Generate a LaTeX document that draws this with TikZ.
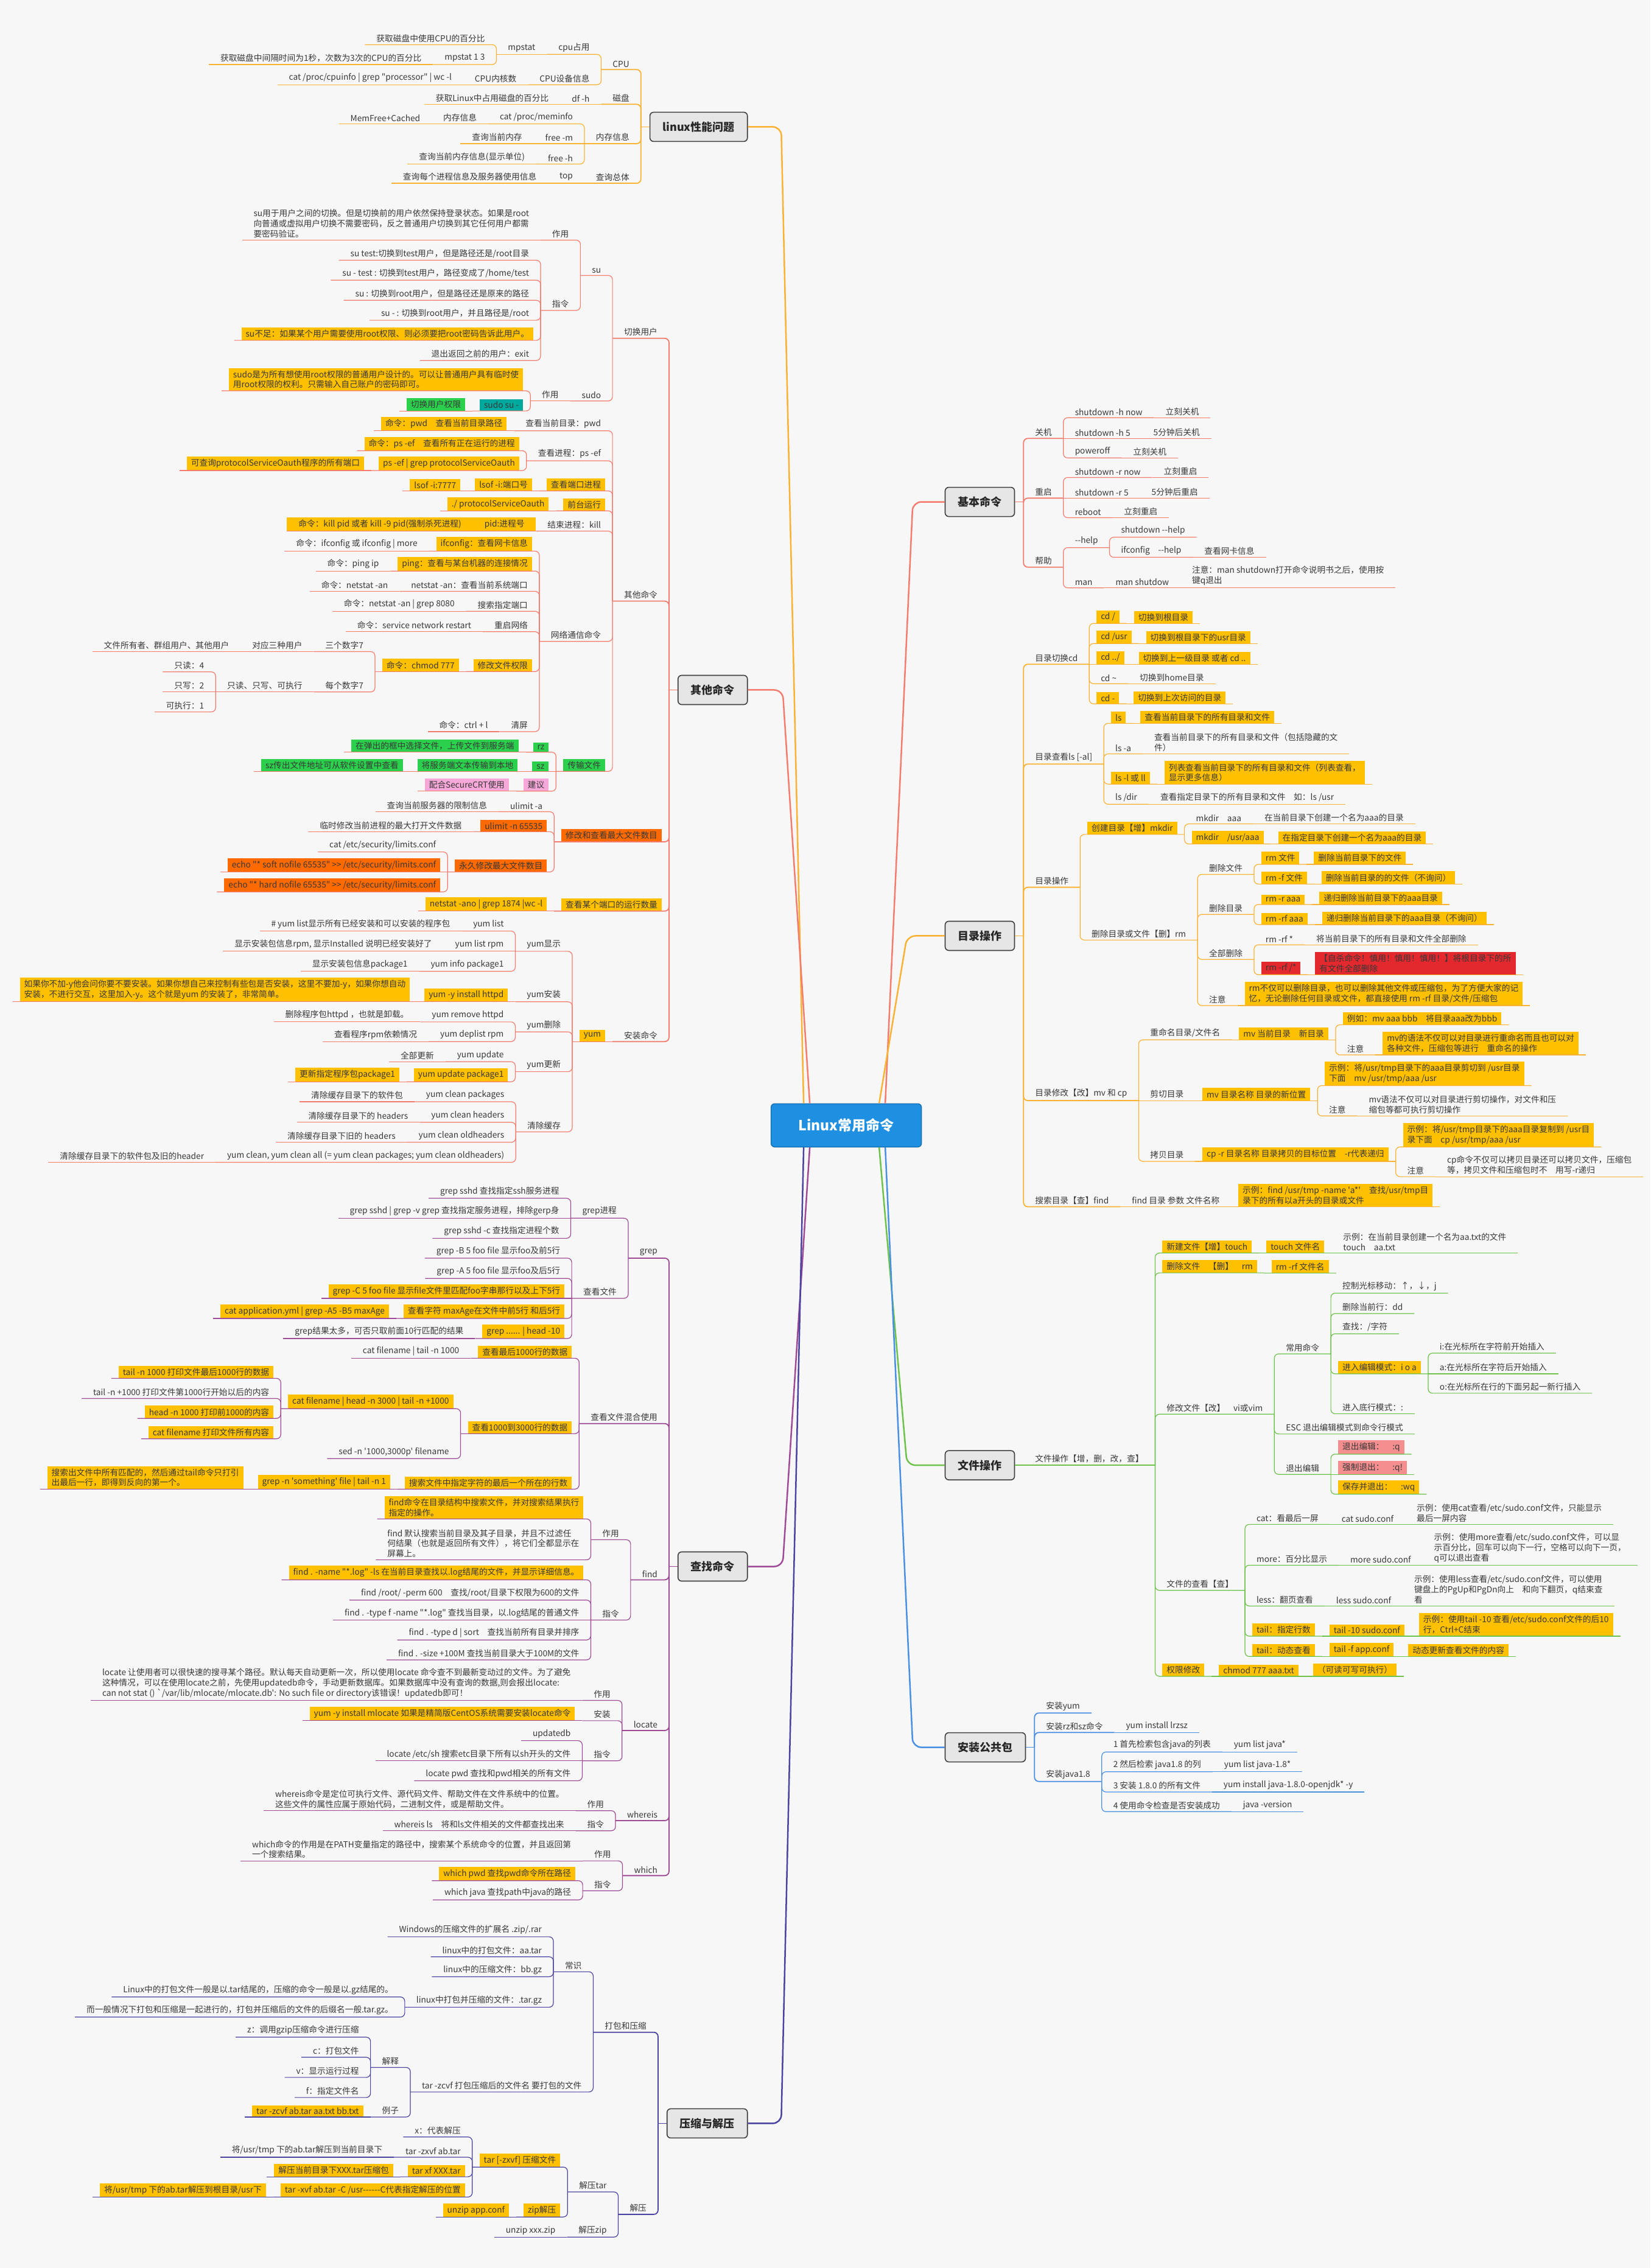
\documentclass[tikz,border=0pt]{standalone}
\usepackage{fontspec}
\setmainfont{Noto Sans CJK SC}[Ligatures=TeXOff]
\definecolor{bg}{HTML}{F7F7F7}
\definecolor{txt}{HTML}{383838}
\definecolor{cperf}{HTML}{F9B233}
\definecolor{cother}{HTML}{F47C6E}
\definecolor{cfind}{HTML}{9E4A96}
\definecolor{ctar}{HTML}{4B43A0}
\definecolor{cbasic}{HTML}{F47C6E}
\definecolor{cdir}{HTML}{F9B233}
\definecolor{cfile}{HTML}{6CC24A}
\definecolor{cinst}{HTML}{4A90E2}
\definecolor{fy}{HTML}{FFC000}
\definecolor{fo}{HTML}{FF6A00}
\definecolor{fg}{HTML}{2BD14C}
\definecolor{ft}{HTML}{00A99D}
\definecolor{fp}{HTML}{F7A8D8}
\definecolor{fr}{HTML}{E3282E}
\definecolor{fl}{HTML}{F58F8F}
\definecolor{cblue}{HTML}{1E8FE1}
\definecolor{mgrey}{HTML}{E6E6E6}
\colorlet{brc}{cperf}

\tikzset{
  lk/.style={anchor=south east, inner xsep=7pt, outer xsep=12pt, inner ysep=4pt,
    outer ysep=0pt, font=\fontsize{13.7}{16.7}\selectfont, text=txt},
  rk/.style={lk, anchor=south west},
  hy/.style={fill=fy}, ho/.style={fill=fo}, hg/.style={fill=fg}, ht/.style={fill=ft},
  hp/.style={fill=fp}, hr/.style={fill=fr}, hl/.style={fill=fl},
  two/.style={align=left},
  tight/.style={inner xsep=19pt, outer xsep=0pt},
  link/.style={draw=brc, line width=1.2pt, rounded corners=7pt},
  linkA/.style={link, line width=1.8pt},
  hub/.style={inner sep=0pt, outer sep=0pt, minimum size=0pt},
  mbox/.style={draw=black!75, line width=1.6pt, fill=mgrey, rounded corners=6pt,
    inner xsep=21pt, minimum height=48pt, font=\fontsize{18}{21}\selectfont\bfseries, text=black!85},
  ml/.style={line width=2.5pt, rounded corners=14pt}
}

% left children
\newcommand\lk[5][]{\node[lk,#1] (#2) at (#3.south west |- 0,#4) {#5};
  \draw[link] (#2.south west) -- (#2.south east) -- (#3.south west);}
\newcommand\lki[4][]{\node[lk,#1] (#2) at (#3.south west) {#4};
  \draw[link] (#2.south west) -- (#3.south west);}
\newcommand\lkA[5][]{\node[lk,#1] (#2) at (#3 |- 0,#4) {#5};
  \draw[linkA] (#2.south west) -- (#2.south east) -- (#3);}
% right children
\newcommand\rk[5][]{\node[rk,#1] (#2) at (#3.south east |- 0,#4) {#5};
  \draw[link] (#2.south east) -- (#2.south west) -- (#3.south east);}
\newcommand\rki[4][]{\node[rk,#1] (#2) at (#3.south east) {#4};
  \draw[link] (#2.south east) -- (#3.south east);}
\newcommand\rkA[5][]{\node[rk,#1] (#2) at (#3 |- 0,#4) {#5};
  \draw[linkA] (#2.south east) -- (#2.south west) -- (#3);}

\begin{document}
\begin{tikzpicture}[x=2.376pt, y=-2.376pt]
\useasboundingbox (0,0) rectangle (1141,1568);
\fill[bg] (0,0) rectangle (1141,1568);

% centre and main branches
\node[fill=cblue, draw=cblue!80!black, line width=1.5pt, rounded corners=6pt, text=white,
  font=\fontsize{23}{26}\selectfont\bfseries, minimum width=247pt, minimum height=71pt] (ctr) at (585,778) {Linux常用命令};
\node[mbox, anchor=east] (perf) at (517,87.7) {linux性能问题};
\node[mbox, anchor=east] (oth) at (517,477) {其他命令};
\node[mbox, anchor=east] (fnd) at (517,1083) {查找命令};
\node[mbox, anchor=east] (tar) at (517,1468) {压缩与解压};
\node[mbox, anchor=west] (bas) at (653,347) {基本命令};
\node[mbox, anchor=west] (dir) at (653,647) {目录操作};
\node[mbox, anchor=west] (fil) at (653,1013) {文件操作};
\node[mbox, anchor=west] (ins) at (653,1208) {安装公共包};

\draw[ml, cperf] (perf.east) -- (540,87.7) -- ([xshift=-70pt]ctr.north);
\draw[ml, cother] (oth.east) -- (541,477) -- ([xshift=-60pt]ctr.north);
\draw[ml, cfind] (fnd.east) -- (541,1083) -- ([xshift=-60pt]ctr.south);
\draw[ml, ctar] (tar.east) -- (540,1468) -- ([xshift=-70pt]ctr.south);
\draw[ml, cbasic] (bas.west) -- (631,347) -- ([xshift=64pt]ctr.north);
\draw[ml, cdir] (dir.west) -- (627,647) -- ([xshift=54pt]ctr.north);
\draw[ml, cfile] (fil.west) -- (627,1013) -- ([xshift=54pt]ctr.south);
\draw[ml, cinst] (ins.west) -- (631,1208) -- ([xshift=64pt]ctr.south);

\node[hub] (perfS) at ([xshift=-14pt]perf.west) {};
\node[hub] (othS) at ([xshift=-14pt]oth.west) {};
\node[hub] (fndS) at ([xshift=-14pt]fnd.west) {};
\node[hub] (tarS) at ([xshift=-14pt]tar.west) {};
\node[hub] (basS) at ([xshift=14pt]bas.east) {};
\node[hub] (dirS) at ([xshift=14pt]dir.east) {};
\node[hub] (filS) at ([xshift=14pt]fil.east) {};
\node[hub] (insS) at ([xshift=14pt]ins.east) {};

% linux性能问题
\colorlet{brc}{cperf}
\draw[linkA] (perfS) -- (perf.west);
\lkA{p1}{perfS}{48.1}{CPU}
\lk{p2}{p1}{37.6}{cpu占用}
\lki{p3}{p2}{mpstat}
\lk{p4}{p3}{30.9}{获取磁盘中使用CPU的百分比}
\lk{p5}{p3}{44.6}{mpstat 1 3}
\lki{p6}{p5}{获取磁盘中间隔时间为1秒，次数为3次的CPU的百分比}
\lk{p7}{p1}{58.6}{CPU设备信息}
\lki{p8}{p7}{CPU内核数}
\lki{p9}{p8}{cat /proc/cpuinfo | grep "processor" | wc -l}
\lkA{p10}{perfS}{72.1}{磁盘}
\lki{p11}{p10}{df -h}
\lki{p12}{p11}{获取Linux中占用磁盘的百分比}
\lkA{p13}{perfS}{99.3}{内存信息}
\lk{p14}{p13}{85.6}{cat /proc/meminfo}
\lki{p15}{p14}{内存信息}
\lki{p16}{p15}{MemFree+Cached}
\lki{p17}{p13}{free -m}
\lki{p18}{p17}{查询当前内存}
\lk{p19}{p13}{113.4}{free -h}
\lki{p20}{p19}{查询当前内存信息(显示单位)}
\lkA{p21}{perfS}{126.7}{查询总体}
\lki{p22}{p21}{top}
\lki{p23}{p22}{查询每个进程信息及服务器使用信息}

% 其他命令
\colorlet{brc}{cother}
\draw[linkA] (othS) -- (oth.west);
\lkA{o1}{othS}{233.9}{切换用户}
\lk{o2}{o1}{190.4}{su}
\lk{o3}{o2}{166.0}{作用}
\lki[two]{o4}{o3}{su用于用户之间的切换。但是切换前的用户依然保持登录状态。如果是root\\向普通或虚拟用户切换不需要密码，反之普通用户切换到其它任何用户都需\\要密码验证。}
\lk{o5}{o2}{214.6}{指令}
\lk{o6}{o5}{179.9}{su test:切换到test用户，但是路径还是/root目录}
\lk{o7}{o5}{193.7}{su - test : 切换到test用户，路径变成了/home/test}
\lk{o8}{o5}{207.6}{su : 切换到root用户，但是路径还是原来的路径}
\lk{o9}{o5}{221.4}{su - : 切换到root用户，并且路径是/root}
\lk[hy]{o10}{o5}{235.3}{su不足：如果某个用户需要使用root权限、则必须要把root密码告诉此用户。}
\lk{o11}{o5}{249.2}{退出返回之前的用户：exit}
\lk{o12}{o1}{277.2}{sudo}
\lki{o13}{o12}{作用}
\lk[hy,two]{o14}{o13}{270.2}{sudo是为所有想使用root权限的普通用户设计的。可以让普通用户具有临时使\\用root权限的权利。只需输入自己账户的密码即可。}
\lk[ht]{o15}{o13}{284.1}{sudo su -}
\lki[hg]{o16}{o15}{切换用户权限}
\lkA{o17}{othS}{415.6}{其他命令}
\lk{o18}{o17}{297.8}{查看当前目录：pwd}
\lki[hy]{o19}{o18}{命令：pwd　查看当前目录路径}
\lk{o20}{o17}{318.6}{查看进程：ps -ef}
\lk[hy]{o21}{o20}{311.6}{命令：ps -ef　查看所有正在运行的进程}
\lk[hy]{o22}{o20}{325.3}{ps -ef | grep protocolServiceOauth}
\lki[hy]{o23}{o22}{可查询protocolServiceOauth程序的所有端口}
\lk[hy]{o24}{o17}{339.4}{查看端口进程}
\lki[hy]{o25}{o24}{lsof -i:端口号}
\lki[hy]{o26}{o25}{lsof -i:7777}
\lk[hy]{o27}{o17}{353.2}{前台运行}
\lki[hy]{o28}{o27}{./ protocolServiceOauth}
\lk{o29}{o17}{367.2}{结束进程：kill}
\lki[hy,tight]{o30}{o29}{pid:进程号}
\lki[hy,tight]{o31}{o30}{命令：kill pid 或者 kill -9 pid(强制杀死进程)}
\lk{o32}{o17}{443.4}{网络通信命令}
\lk[hy]{o33}{o32}{381.0}{ifconfig：查看网卡信息}
\lki{o34}{o33}{命令：ifconfig 或 ifconfig | more}
\lk[hy]{o35}{o32}{394.8}{ping：查看与某台机器的连接情况}
\lki{o36}{o35}{命令：ping ip}
\lk{o37}{o32}{408.8}{netstat -an：查看当前系统端口}
\lki{o38}{o37}{命令：netstat -an}
\lk{o39}{o32}{422.6}{搜索指定端口}
\lki{o40}{o39}{命令：netstat -an | grep 8080}
\lk{o41}{o32}{436.7}{重启网络}
\lki{o42}{o41}{命令：service network restart}
\lk[hy]{o43}{o32}{464.3}{修改文件权限}
\lki[hy]{o44}{o43}{命令：chmod 777}
\lk{o45}{o44}{450.5}{三个数字7}
\lki{o46}{o45}{对应三种用户}
\lki{o47}{o46}{文件所有者、群组用户、其他用户}
\lk{o48}{o44}{478.4}{每个数字7}
\lki{o49}{o48}{只读、只写、可执行}
\lk{o50}{o49}{464.5}{只读：4}
\lki{o51}{o49}{只写：2}
\lk{o52}{o49}{492.2}{可执行：1}
\lk{o53}{o32}{505.8}{清屏}
\lki{o54}{o53}{命令：ctrl + l}
\lk[hg]{o55}{o17}{533.3}{传输文件}
\lk[hg]{o56}{o55}{520.0}{rz}
\lki[hg]{o57}{o56}{在弹出的框中选择文件，上传文件到服务端}
\lki[hg]{o58}{o55}{sz}
\lki[hg]{o59}{o58}{将服务端文本传输到本地}
\lki[hg]{o60}{o59}{sz传出文件地址可从软件设置中查看}
\lk[hp]{o61}{o55}{547.0}{建议}
\lki[hp]{o62}{o61}{配合SecureCRT使用}
\lkA[ho]{o63}{othS}{582.0}{修改和查看最大文件数目}
\lk{o64}{o63}{561.2}{ulimit -a}
\lki{o65}{o64}{查询当前服务器的限制信息}
\lk[ho]{o66}{o63}{575.0}{ulimit -n 65535}
\lki{o67}{o66}{临时修改当前进程的最大打开文件数据}
\lk[ho]{o68}{o63}{602.8}{永久修改最大文件数目}
\lk{o69}{o68}{589.0}{cat /etc/security/limits.conf}
\lki[ho]{o70}{o68}{echo "* soft nofile 65535" >> /etc/security/limits.conf}
\lk[ho]{o71}{o68}{616.6}{echo "* hard nofile 65535" >> /etc/security/limits.conf}
\lkA[hy]{o72}{othS}{629.9}{查看某个端口的运行数量}
\lki[hy]{o73}{o72}{netstat -ano | grep 1874 |wc -l}
\lkA{o74}{othS}{720.1}{安装命令}
\lki[hy]{o75}{o74}{yum}
\lk{o76}{o75}{657.7}{yum显示}
\lk{o77}{o76}{643.7}{yum list}
\lki{o78}{o77}{\# yum list显示所有已经安装和可以安装的程序包}
\lki{o79}{o76}{yum list rpm}
\lki{o80}{o79}{显示安装包信息rpm, 显示Installed 说明已经安装好了}
\lk{o81}{o76}{671.5}{yum info package1}
\lki{o82}{o81}{显示安装包信息package1}
\lk{o83}{o75}{692.6}{yum安装}
\lki[hy]{o84}{o83}{yum -y install httpd}
\lki[hy,two]{o85}{o84}{如果你不加-y他会问你要不要安装。如果你想自己来控制有些包是否安装，这里不要加-y，如果你想自动\\安装，不进行交互，这里加入-y。这个就是yum 的安装了，非常简单。}
\lk{o86}{o75}{713.4}{yum删除}
\lk{o87}{o86}{706.5}{yum remove httpd}
\lki{o88}{o87}{删除程序包httpd ，也就是卸载。}
\lk{o89}{o86}{720.1}{yum deplist rpm}
\lki{o90}{o89}{查看程序rpm依赖情况}
\lk{o91}{o75}{740.9}{yum更新}
\lk{o92}{o91}{734.0}{yum update}
\lki{o93}{o92}{全部更新}
\lk[hy]{o94}{o91}{747.9}{yum update package1}
\lki[hy]{o95}{o94}{更新指定程序包package1}
\lk{o96}{o75}{782.5}{清除缓存}
\lk{o97}{o96}{761.7}{yum clean packages}
\lki{o98}{o97}{清除缓存目录下的软件包}
\lk{o99}{o96}{775.9}{yum clean headers}
\lki{o100}{o99}{清除缓存目录下的 headers}
\lk{o101}{o96}{789.7}{yum clean oldheaders}
\lki{o102}{o101}{清除缓存目录下旧的 headers}
\lk{o103}{o96}{803.6}{yum clean, yum clean all (= yum clean packages; yum clean oldheaders)}
\lki{o104}{o103}{清除缓存目录下的软件包及旧的header}

% 查找命令
\colorlet{brc}{cfind}
\draw[linkA] (fndS) -- (fnd.west);
\lkA{f1}{fndS}{869.8}{grep}
\lk{f2}{f1}{842.2}{grep进程}
\lk{f3}{f2}{828.4}{grep sshd 查找指定ssh服务进程}
\lki{f4}{f2}{grep sshd | grep -v grep 查找指定服务进程，排除gerp身}
\lk{f5}{f2}{856.1}{grep sshd -c 查找指定进程个数}
\lk{f6}{f1}{897.6}{查看文件}
\lk{f7}{f6}{869.8}{grep -B 5 foo file 显示foo及前5行}
\lk{f8}{f6}{883.8}{grep -A 5 foo file 显示foo及后5行}
\lki[hy]{f9}{f6}{grep -C 5 foo file 显示file文件里匹配foo字串那行以及上下5行}
\lk[hy]{f10}{f6}{911.5}{查看字符 maxAge在文件中前5行 和后5行}
\lki[hy]{f11}{f10}{cat application.yml | grep -A5 -B5 maxAge}
\lk[hy]{f12}{f6}{925.4}{grep ...... | head -10}
\lki{f13}{f12}{grep结果太多，可否只取前面10行匹配的结果}
\lkA{f14}{fndS}{984.2}{查看文件混合使用}
\lk[hy]{f15}{f14}{939.0}{查看最后1000行的数据}
\lki{f16}{f15}{cat filename | tail -n 1000}
\lk[hy]{f17}{f14}{991.2}{查看1000到3000行的数据}
\lk[hy]{f18}{f17}{973.9}{cat filename | head -n 3000 | tail -n +1000}
\lk[hy]{f19}{f18}{952.9}{tail -n 1000 打印文件最后1000行的数据}
\lk{f20}{f18}{966.8}{tail -n +1000 打印文件第1000行开始以后的内容}
\lk[hy]{f21}{f18}{980.6}{head -n 1000 打印前1000的内容}
\lk[hy]{f22}{f18}{994.7}{cat filename 打印文件所有内容}
\lk{f23}{f17}{1008.4}{sed -n '1000,3000p' filename}
\lk[hy]{f24}{f14}{1029.5}{搜索文件中指定字符的最后一个所在的行数}
\lki[hy]{f25}{f24}{grep -n 'something' file | tail -n 1}
\lki[hy,two]{f26}{f25}{搜索出文件中所有匹配的，然后通过tail命令只打引\\出最后一行，即得到反向的第一个。}
\lkA{f27}{fndS}{1092.2}{find}
\lk{f28}{f27}{1064.5}{作用}
\lk[hy,two]{f29}{f28}{1050.1}{find命令在目录结构中搜索文件，并对搜索结果执行\\指定的操作。}
\lk[two]{f30}{f28}{1078.4}{find 默认搜索当前目录及其子目录，并且不过滤任\\何结果（也就是返回所有文件），将它们全都显示在\\屏幕上。}
\lk{f31}{f27}{1120.0}{指令}
\lk[hy]{f32}{f31}{1092.2}{find . -name "*.log" -ls 在当前目录查找以.log结尾的文件，并显示详细信息。}
\lk{f33}{f31}{1106.2}{find /root/ -perm 600　查找/root/目录下权限为600的文件}
\lki{f34}{f31}{find . -type f -name "*.log" 查找当目录，以.log结尾的普通文件}
\lk{f35}{f31}{1133.8}{find . -type d | sort　查找当前所有目录并排序}
\lk{f36}{f31}{1147.6}{find . -size +100M 查找当前目录大于100M的文件}
\lkA{f37}{fndS}{1196.4}{locate}
\lk{f38}{f37}{1175.6}{作用}
\lki[two]{f39}{f38}{locate 让使用者可以很快速的搜寻某个路径。默认每天自动更新一次，所以使用locate 命令查不到最新变动过的文件。为了避免\\这种情况，可以在使用locate之前，先使用updatedb命令，手动更新数据库。如果数据库中没有查询的数据,则会报出locate:\\can not stat () `/var/lib/mlocate/mlocate.db': No such file or directory该错误！updatedb即可！}
\lk{f40}{f37}{1189.6}{安装}
\lki[hy]{f41}{f40}{yum -y install mlocate 如果是精简版CentOS系统需要安装locate命令}
\lk{f42}{f37}{1217.3}{指令}
\lk{f43}{f42}{1203.4}{updatedb}
\lki{f44}{f42}{locate /etc/sh 搜索etc目录下所有以sh开头的文件}
\lk{f45}{f42}{1231.1}{locate pwd 查找和pwd相关的所有文件}
\lkA{f46}{fndS}{1258.7}{whereis}
\lk{f47}{f46}{1251.8}{作用}
\lki[two]{f48}{f47}{whereis命令是定位可执行文件、源代码文件、帮助文件在文件系统中的位置。\\这些文件的属性应属于原始代码，二进制文件，或是帮助文件。}
\lk{f49}{f46}{1265.7}{指令}
\lki{f50}{f49}{whereis ls　将和ls文件相关的文件都查找出来}
\lkA{f51}{fndS}{1296.7}{which}
\lk{f52}{f51}{1286.5}{作用}
\lki[two]{f53}{f52}{which命令的作用是在PATH变量指定的路径中，搜索某个系统命令的位置，并且返回第\\一个搜索结果。}
\lk{f54}{f51}{1307.2}{指令}
\lk[hy]{f55}{f54}{1300.2}{which pwd 查找pwd命令所在路径}
\lk{f56}{f54}{1313.5}{which java 查找path中java的路径}

% 压缩与解压
\colorlet{brc}{ctar}
\draw[linkA] (tarS) -- (tar.west);
\lkA{t1}{tarS}{1405.0}{打包和压缩}
\lk{t2}{t1}{1363.2}{常识}
\lk{t3}{t2}{1339.0}{Windows的压缩文件的扩展名 .zip/.rar}
\lk{t4}{t2}{1352.8}{linux中的打包文件：aa.tar}
\lk{t5}{t2}{1366.6}{linux中的压缩文件：bb.gz}
\lk{t6}{t2}{1387.7}{linux中打包并压缩的文件：.tar.gz}
\lk{t7}{t6}{1380.6}{Linux中的打包文件一般是以.tar结尾的，压缩的命令一般是以.gz结尾的。}
\lk{t8}{t6}{1394.5}{而一般情况下打包和压缩是一起进行的，打包并压缩后的文件的后缀名一般.tar.gz。}
\lk{t9}{t1}{1446.3}{tar -zcvf 打包压缩后的文件名 要打包的文件}
\lk{t10}{t9}{1429.3}{解释}
\lk{t11}{t10}{1408.4}{z：调用gzip压缩命令进行压缩}
\lk{t12}{t10}{1422.3}{c：打包文件}
\lk{t13}{t10}{1436.2}{v：显示运行过程}
\lk{t14}{t10}{1450.1}{f：指定文件名}
\lk{t15}{t9}{1463.6}{例子}
\lki[hy]{t16}{t15}{tar -zcvf ab.tar aa.txt bb.txt}
\lkA{t17}{tarS}{1530.9}{解压}
\lk{t18}{t17}{1515.4}{解压tar}
\lk[hy]{t19}{t18}{1498.2}{tar [-zxvf] 压缩文件}
\lk{t20}{t19}{1477.4}{x：代表解压}
\lk{t21}{t19}{1491.4}{tar -zxvf ab.tar}
\lki{t22}{t21}{将/usr/tmp 下的ab.tar解压到当前目录下}
\lk[hy]{t23}{t19}{1504.9}{tar xf XXX.tar}
\lki[hy]{t24}{t23}{解压当前目录下XXX.tar压缩包}
\lk[hy]{t25}{t19}{1518.9}{tar -xvf ab.tar -C /usr------C代表指定解压的位置}
\lki[hy]{t26}{t25}{将/usr/tmp 下的ab.tar解压到根目录/usr下}
\lk[hy]{t27}{t18}{1532.7}{zip解压}
\lki[hy]{t28}{t27}{unzip app.conf}
\lk{t29}{t17}{1546.6}{解压zip}
\lki{t30}{t29}{unzip xxx.zip}

% 基本命令
\colorlet{brc}{cbasic}
\draw[linkA] (basS) -- (bas.east);
\rkA{b1}{basS}{303.1}{关机}
\rk{b2}{b1}{288.8}{shutdown -h now}
\rki{b3}{b2}{立刻关机}
\rki{b4}{b1}{shutdown -h 5}
\rki{b5}{b4}{5分钟后关机}
\rk{b6}{b1}{316.6}{poweroff}
\rki{b7}{b6}{立刻关机}
\rkA{b8}{basS}{344.4}{重启}
\rk{b9}{b8}{330.1}{shutdown -r now}
\rki{b10}{b9}{立刻重启}
\rki{b11}{b8}{shutdown -r 5}
\rki{b12}{b11}{5分钟后重启}
\rk{b13}{b8}{357.9}{reboot}
\rki{b14}{b13}{立刻重启}
\rkA{b15}{basS}{392.1}{帮助}
\rk{b16}{b15}{378.6}{--help}
\rk{b17}{b16}{371.4}{shutdown --help}
\rk{b18}{b16}{385.3}{ifconfig　--help}
\rki{b19}{b18}{查看网卡信息}
\rk{b20}{b15}{406.4}{man}
\rki{b21}{b20}{man shutdow}
\rki[two]{b22}{b21}{注意：man shutdown打开命令说明书之后，使用按\\键q退出}

% 目录操作
\colorlet{brc}{cdir}
\draw[linkA] (dirS) -- (dir.east);
\rkA{d1}{dirS}{459.2}{目录切换cd}
\rk[hy]{d2}{d1}{431.0}{cd /}
\rki[hy]{d3}{d2}{切换到根目录}
\rk[hy]{d4}{d1}{444.9}{cd /usr}
\rki[hy]{d5}{d4}{切换到根目录下的usr目录}
\rki[hy]{d6}{d1}{cd ../}
\rki[hy]{d7}{d6}{切换到上一级目录 或者 cd ..}
\rk{d8}{d1}{472.7}{cd \textasciitilde}
\rki{d9}{d8}{切换到home目录}
\rk[hy]{d10}{d1}{486.6}{cd -}
\rki[hy]{d11}{d10}{切换到上次访问的目录}
\rkA{d12}{dirS}{528.2}{目录查看ls [-al]}
\rk[hy]{d13}{d12}{500.1}{ls}
\rki[hy]{d14}{d13}{查看当前目录下的所有目录和文件}
\rk{d15}{d12}{521.2}{ls -a}
\rki[two]{d16}{d15}{查看当前目录下的所有目录和文件（包括隐藏的文\\件）}
\rk[hy]{d17}{d12}{542.1}{ls -l 或 ll}
\rki[hy,two]{d18}{d17}{列表查看当前目录下的所有目录和文件（列表查看，\\显示更多信息）}
\rk{d19}{d12}{556.0}{ls /dir}
\rki{d20}{d19}{查看指定目录下的所有目录和文件　如：ls /usr}
\rkA{d21}{dirS}{613.4}{目录操作}
\rk[hy]{d22}{d21}{576.9}{创建目录【增】mkdir}
\rk{d23}{d22}{569.6}{mkdir　aaa}
\rki{d24}{d23}{在当前目录下创建一个名为aaa的目录}
\rk[hy]{d25}{d22}{583.5}{mkdir　/usr/aaa}
\rki[hy]{d26}{d25}{在指定目录下创建一个名为aaa的目录}
\rk{d27}{d21}{649.9}{删除目录或文件【删】rm}
\rk{d28}{d27}{604.5}{删除文件}
\rk[hy]{d29}{d28}{597.6}{rm 文件}
\rki[hy]{d30}{d29}{删除当前目录下的文件}
\rk[hy]{d31}{d28}{611.2}{rm -f 文件}
\rki[hy]{d32}{d31}{删除当前目录的的文件（不询问）}
\rk{d33}{d27}{632.2}{删除目录}
\rk[hy]{d34}{d33}{625.3}{rm -r aaa}
\rki[hy]{d35}{d34}{递归删除当前目录下的aaa目录}
\rk[hy]{d36}{d33}{639.2}{rm -rf aaa}
\rki[hy]{d37}{d36}{递归删除当前目录下的aaa目录（不询问）}
\rk{d38}{d27}{663.3}{全部删除}
\rk{d39}{d38}{653.2}{rm -rf *}
\rki{d40}{d39}{将当前目录下的所有目录和文件全部删除}
\rk[hr]{d41}{d38}{673.8}{rm -rf /*}
\rki[hr,two]{d42}{d41}{【自杀命令！慎用！慎用！慎用！】将根目录下的所\\有文件全部删除}
\rk{d43}{d27}{695.2}{注意}
\rki[hy,two]{d44}{d43}{rm不仅可以删除目录，也可以删除其他文件或压缩包，为了方便大家的记\\忆，无论删除任何目录或文件，都直接使用 rm -rf 目录/文件/压缩包}
\rkA{d45}{dirS}{760.9}{目录修改【改】mv 和 cp}
\rk{d46}{d45}{718.9}{重命名目录/文件名}
\rki[hy]{d47}{d46}{mv 当前目录　新目录}
\rk[hy]{d48}{d47}{708.5}{例如：mv aaa bbb　将目录aaa改为bbb}
\rk{d49}{d47}{729.3}{注意}
\rki[hy,two]{d50}{d49}{mv的语法不仅可以对目录进行重命名而且也可以对\\各种文件，压缩包等进行　重命名的操作}
\rki{d51}{d45}{剪切目录}
\rki[hy]{d52}{d51}{mv 目录名称 目录的新位置}
\rk[hy,two]{d53}{d52}{750.5}{示例：将/usr/tmp目录下的aaa目录剪切到 /usr目录\\下面　mv /usr/tmp/aaa /usr}
\rk{d54}{d52}{771.5}{注意}
\rki[two]{d55}{d54}{mv语法不仅可以对目录进行剪切操作，对文件和压\\缩包等都可执行剪切操作}
\rk{d56}{d45}{802.9}{拷贝目录}
\rki[hy]{d57}{d56}{cp -r 目录名称 目录拷贝的目标位置　-r代表递归}
\rk[hy,two]{d58}{d57}{792.9}{示例：将/usr/tmp目录下的aaa目录复制到 /usr目\\录下面　cp /usr/tmp/aaa /usr}
\rk{d59}{d57}{813.5}{注意}
\rki[two]{d60}{d59}{cp命令不仅可以拷贝目录还可以拷贝文件，压缩包\\等，拷贝文件和压缩包时不　用写-r递归}
\rkA{d61}{dirS}{834.3}{搜索目录【查】find}
\rki{d62}{d61}{find 目录 参数 文件名称}
\rki[hy,two]{d63}{d62}{示例：find /usr/tmp -name 'a*'　查找/usr/tmp目\\录下的所有以a开头的目录或文件}

% 文件操作
\colorlet{brc}{cfile}
\node[rk] (e1) at (filS) {文件操作【增，删，改，查】};
\draw[linkA] (e1.south east) -- (fil.east);
\rk[hy]{e2}{e1}{866.3}{新建文件【增】touch}
\rki[hy]{e3}{e2}{touch 文件名}
\rki[two]{e4}{e3}{示例：在当前目录创建一个名为aa.txt的文件\\touch　aa.txt}
\rk[hy]{e5}{e1}{880.0}{删除文件　【删】　rm}
\rki[hy]{e6}{e5}{rm -rf 文件名}
\rk{e7}{e1}{977.7}{修改文件【改】　vi或vim}
\rk{e8}{e7}{936.0}{常用命令}
\rk{e9}{e8}{894.0}{控制光标移动：↑，↓，j}
\rk{e10}{e8}{908.1}{删除当前行：dd}
\rk{e11}{e8}{922.1}{查找：/字符}
\rk[hy]{e12}{e8}{949.8}{进入编辑模式：i o a}
\rk{e13}{e12}{935.5}{i:在光标所在字符前开始插入}
\rki{e14}{e12}{a:在光标所在字符后开始插入}
\rk{e15}{e12}{963.2}{o:在光标所在行的下面另起一新行插入}
\rk{e16}{e8}{977.4}{进入底行模式：:}
\rk{e17}{e7}{991.4}{ESC 退出编辑模式到命令行模式}
\rk{e18}{e7}{1019.3}{退出编辑}
\rk[hl]{e19}{e18}{1005.3}{退出编辑：　:q}
\rki[hl]{e20}{e18}{强制退出：　:q!}
\rk[hy]{e21}{e18}{1033.0}{保存并退出：　:wq}
\rk{e22}{e1}{1099.5}{文件的查看【查】}
\rk{e23}{e22}{1053.9}{cat：看最后一屏}
\rki{e24}{e23}{cat sudo.conf}
\rki[two]{e25}{e24}{示例：使用cat查看/etc/sudo.conf文件，只能显示\\最后一屏内容}
\rk{e26}{e22}{1082.1}{more：百分比显示}
\rki{e27}{e26}{more sudo.conf}
\rki[two]{e28}{e27}{示例：使用more查看/etc/sudo.conf文件，可以显\\示百分比，回车可以向下一行，空格可以向下一页，\\q可以退出查看}
\rk{e29}{e22}{1110.3}{less：翻页查看}
\rki{e30}{e29}{less sudo.conf}
\rki[two]{e31}{e30}{示例：使用less查看/etc/sudo.conf文件，可以使用\\键盘上的PgUp和PgDn向上　和向下翻页，q结束查\\看}
\rk[hy]{e32}{e22}{1131.2}{tail：指定行数}
\rki[hy]{e33}{e32}{tail -10 sudo.conf}
\rki[hy,two]{e34}{e33}{示例：使用tail -10 查看/etc/sudo.conf文件的后10\\行，Ctrl+C结束}
\rk[hy]{e35}{e22}{1145.2}{tail：动态查看}
\rki[hy]{e36}{e35}{tail -f app.conf}
\rki[hy]{e37}{e36}{动态更新查看文件的内容}
\rk[hy]{e38}{e1}{1158.9}{权限修改}
\rki[hy]{e39}{e38}{chmod 777 aaa.txt}
\rki[hy]{e40}{e39}{（可读可写可执行）}

% 安装公共包
\colorlet{brc}{cinst}
\draw[linkA] (insS) -- (ins.east);
\rkA{i1}{insS}{1184.3}{安装yum}
\rkA{i2}{insS}{1197.8}{安装rz和sz命令}
\rki{i3}{i2}{yum install lrzsz}
\rkA{i4}{insS}{1231.6}{安装java1.8}
\rk{i5}{i4}{1211.2}{1 首先检索包含java的列表}
\rki{i6}{i5}{yum list java*}
\rk{i7}{i4}{1224.9}{2 然后检索 java1.8 的列}
\rki{i8}{i7}{yum list java-1.8*}
\rk{i9}{i4}{1238.9}{3 安装 1.8.0 的所有文件}
\rki{i10}{i9}{yum install java-1.8.0-openjdk* -y}
\rk{i11}{i4}{1252.5}{4 使用命令检查是否安装成功}
\rki{i12}{i11}{java -version}
\end{tikzpicture}
\end{document}
